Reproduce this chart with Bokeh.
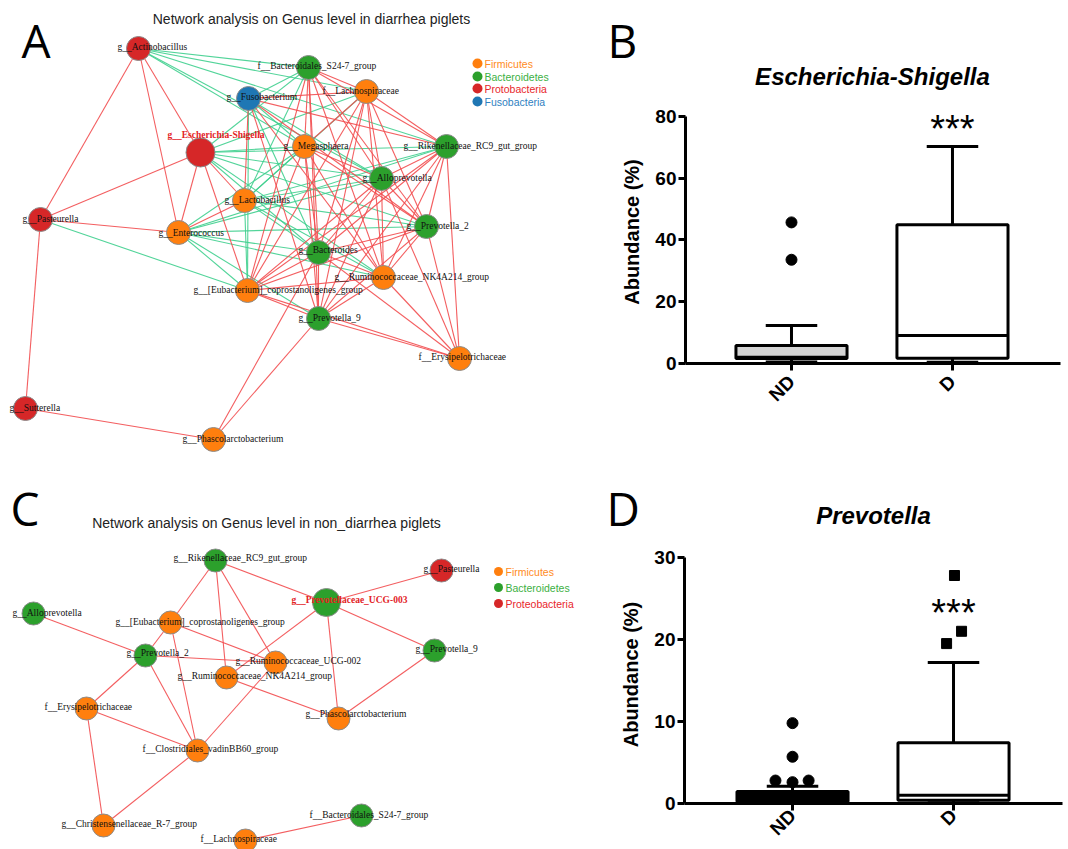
import math
from bokeh.plotting import figure
from bokeh.layouts import column, row
from bokeh.models import Range1d, FixedTicker
from bokeh.core.properties import value
from bokeh.embed import file_html
from bokeh.resources import INLINE

# ===================== DATA =====================
# ---- Panel A: network, diarrhea piglets ----
a_ids = ["AC", "BS", "FU", "LA", "ES", "ME", "RK", "AL", "LB", "PA",
         "EN", "P2", "BA", "RU", "EU", "P9", "ER", "SU", "PH"]
a_names = ["g__Actinobacillus", "f__Bacteroidales_S24-7_group", "g__Fusobacterium",
           "f__Lachnospiraceae", "g__Escherichia-Shigella", "g__Megasphaera",
           "g__Rikenellaceae_RC9_gut_group", "g__Alloprevotella", "g__Lactobacillus",
           "g__Pasteurella", "g__Enterococcus", "g__Prevotella_2", "g__Bacteroides",
           "g__Ruminococcaceae_NK4A214_group", "g__[Eubacterium]_coprostanoligenes_group",
           "g__Prevotella_9", "f__Erysipelotrichaceae", "g__Sutterella",
           "g__Phascolarctobacterium"]
a_phylum = ["Proteobacteria", "Bacteroidetes", "Fusobacteria", "Firmicutes", "Proteobacteria",
            "Firmicutes", "Bacteroidetes", "Bacteroidetes", "Firmicutes", "Proteobacteria",
            "Firmicutes", "Bacteroidetes", "Bacteroidetes", "Firmicutes", "Firmicutes",
            "Bacteroidetes", "Firmicutes", "Proteobacteria", "Firmicutes"]
a_highlight = "ES"
# positive (red) and negative (green) correlations
a_edges_pos = [
    ("AC", "ES"), ("AC", "EN"), ("AC", "PA"), ("ES", "PA"), ("ES", "EN"), ("PA", "EN"),
    ("PA", "SU"), ("SU", "PH"), ("ES", "LB"), ("ES", "EU"), ("LB", "EN"), ("FU", "LB"),
    ("FU", "LA"), ("FU", "RK"), ("FU", "P2"), ("FU", "RU"), ("FU", "P9"),
    ("BS", "ME"), ("BS", "AL"), ("BS", "P2"), ("BS", "BA"), ("BS", "RU"), ("BS", "EU"),
    ("BS", "P9"), ("BS", "RK"), ("BS", "LA"),
    ("LA", "ME"), ("LA", "RK"), ("LA", "AL"), ("LA", "P2"), ("LA", "BA"), ("LA", "RU"),
    ("LA", "EU"), ("LA", "P9"),
    ("ME", "AL"), ("ME", "P2"), ("ME", "BA"), ("ME", "RU"), ("ME", "EU"), ("ME", "P9"),
    ("RK", "AL"), ("RK", "P2"), ("RK", "BA"), ("RK", "RU"), ("RK", "EU"), ("RK", "P9"),
    ("RK", "ER"),
    ("AL", "P2"), ("AL", "BA"), ("AL", "RU"), ("AL", "EU"), ("AL", "P9"), ("AL", "ER"),
    ("P2", "BA"), ("P2", "RU"), ("P2", "EU"), ("P2", "P9"), ("P2", "ER"),
    ("BA", "RU"), ("BA", "EU"), ("BA", "P9"), ("BA", "ER"), ("BA", "PH"),
    ("RU", "EU"), ("RU", "P9"), ("RU", "ER"),
    ("EU", "P9"), ("EU", "ER"), ("P9", "ER"), ("P9", "PH"),
]
a_edges_neg = [
    ("AC", "BS"), ("AC", "LA"), ("AC", "ME"), ("AC", "RK"), ("AC", "AL"),
    ("FU", "BS"), ("FU", "ME"), ("FU", "AL"), ("FU", "BA"), ("FU", "EU"),
    ("ES", "ME"), ("ES", "RK"), ("ES", "AL"), ("ES", "P2"), ("ES", "BA"), ("ES", "RU"),
    ("ES", "LA"), ("ES", "BS"),
    ("LB", "BS"), ("LB", "LA"), ("LB", "ME"), ("LB", "AL"), ("LB", "RK"), ("LB", "P2"),
    ("LB", "BA"), ("LB", "RU"), ("LB", "EU"),
    ("EN", "ME"), ("EN", "AL"), ("EN", "P2"), ("EN", "BA"), ("EN", "RU"), ("EN", "EU"),
    ("EN", "P9"), ("EN", "RK"),
    ("PA", "EU"),
]
a_legend = ["Firmicutes", "Bacteroidetes", "Protobacteria", "Fusobacteria"]
a_legend_phylum = ["Firmicutes", "Bacteroidetes", "Proteobacteria", "Fusobacteria"]

# ---- Panel C: network, non-diarrhea piglets ----
c_ids = ["RK", "AL", "EU", "P2", "RU2", "RN", "ER", "CL", "CH", "LA", "PU", "PS", "P9", "PH", "BS"]
c_names = ["g__Rikenellaceae_RC9_gut_group", "g__Alloprevotella",
           "g__[Eubacterium]_coprostanoligenes_group", "g__Prevotella_2",
           "g__Ruminococcaceae_UCG-002", "g__Ruminococcaceae_NK4A214_group",
           "f__Erysipelotrichaceae", "f__Clostridiales_vadinBB60_group",
           "g__Christensenellaceae_R-7_group", "f__Lachnospiraceae",
           "g__Prevotellaceae_UCG-003", "g__Pasteurella", "g__Prevotella_9",
           "g__Phascolarctobacterium", "f__Bacteroidales_S24-7_group"]
c_phylum = ["Bacteroidetes", "Bacteroidetes", "Firmicutes", "Bacteroidetes", "Firmicutes",
            "Firmicutes", "Firmicutes", "Firmicutes", "Firmicutes", "Firmicutes",
            "Bacteroidetes", "Proteobacteria", "Bacteroidetes", "Firmicutes", "Bacteroidetes"]
c_highlight = "PU"
c_edges_pos = [
    ("RK", "PU"), ("RK", "EU"), ("RK", "RN"), ("RK", "RU2"), ("AL", "P2"), ("EU", "P2"),
    ("EU", "RU2"), ("EU", "CL"), ("P2", "RU2"), ("P2", "ER"), ("P2", "CL"), ("ER", "CL"),
    ("ER", "CH"), ("CL", "CH"), ("CL", "RU2"), ("RN", "PU"), ("RN", "PH"), ("PU", "PS"),
    ("PU", "P9"), ("PU", "PH"), ("P9", "PH"), ("LA", "BS"),
]
c_legend = ["Firmicutes", "Bacteroidetes", "Proteobacteria"]
c_legend_phylum = ["Firmicutes", "Bacteroidetes", "Proteobacteria"]

# ---- Panel B: Escherichia-Shigella abundance (%) ----
groups = ["ND", "D"]
esc_q1 = [1.6, 1.7]
esc_median = [2.0, 9.1]
esc_q3 = [5.8, 44.9]
esc_low = [0.5, 0.4]
esc_high = [12.3, 70.3]
esc_out_nd = [45.7, 33.6]
esc_out_d = []

# ---- Panel D: Prevotella abundance (%) ----
prev_q1 = [0.25, 0.4]
prev_median = [0.7, 1.0]
prev_q3 = [1.45, 7.4]
prev_low = [0.1, 0.1]
prev_high = [2.1, 17.2]
prev_out_nd = [9.8, 5.7, 2.8, 2.6, 2.8]
prev_out_d = [27.8, 21.0, 19.5]

# ===================== LAYOUT / STYLE =====================
# network drawing coordinates (pixel space of each panel)
a_node_x = [138, 308, 248, 366, 200, 304, 446, 381, 244, 40, 178, 426, 318, 383, 247, 318, 459, 25, 213]
a_node_y = [48, 67, 98, 91, 152, 146, 146, 178, 200, 219, 232, 226, 252, 277, 290, 318, 358, 408, 439]
a_label_x = [117, 257, 226, 322, 167, 283, 403, 362, 224, 22, 158, 406, 298, 334, 193, 298, 418, 9, 182]
a_label_y = [46, 65, 96, 90, 134, 145, 145, 177, 199, 218, 232, 225, 249, 276, 289, 317, 356, 407, 438]

c_node_x = [215, 33, 170, 145, 275, 226, 86, 197, 103, 245, 326, 441, 434, 338, 361]
c_node_y = [560, 613, 622, 655, 662, 677, 708, 750, 825, 840, 602, 570, 650, 718, 815]
c_label_x = [173, 12, 115, 126, 235, 177, 44, 142, 61, 200, 291, 423, 415, 305, 309]
c_label_y = [557, 612, 621, 652, 660, 675, 706, 748, 823, 838, 599, 568, 648, 713, 814]

PHYLUM_COLOR = {"Firmicutes": "#ff7f0e", "Bacteroidetes": "#2ca02c",
                "Proteobacteria": "#d62728", "Fusobacteria": "#1f77b4"}
LEGEND_TEXT_COLOR = {"Firmicutes": "#ff8a1c", "Bacteroidetes": "#3cb043",
                     "Proteobacteria": "#e8262b", "Fusobacteria": "#2f7fc1"}
RED_EDGE = "#f24d4f"
GREEN_EDGE = "#3fcf8e"
SERIF = value("Liberation Serif")
SANS = value("Liberation Sans")
LETTER_FONT = value("Open Sans")


def bare_figure(width, height, x0, y0):
    p = figure(width=width, height=height, x_range=Range1d(x0, x0 + width),
               y_range=Range1d(y0 + height, y0), output_backend="svg",
               toolbar_location=None, x_axis_location=None, y_axis_location=None,
               min_border=0)
    p.grid.visible = False
    p.outline_line_color = None
    return p


def network_panel(height, y0, ids, names, phylum, nx, ny, lx, ly, edges_pos, edges_neg,
                  highlight, title, title_xy, letter, letter_xy, legend, legend_phylum,
                  legend_x, legend_y, node_size, legend_size):
    p = bare_figure(580, height, 0, y0)
    pos = {k: (x, y) for k, x, y in zip(ids, nx, ny)}
    for edges, col in ((edges_neg, GREEN_EDGE), (edges_pos, RED_EDGE)):
        if edges:
            p.segment(x0=[pos[a][0] for a, b in edges], y0=[pos[a][1] for a, b in edges],
                      x1=[pos[b][0] for a, b in edges], y1=[pos[b][1] for a, b in edges],
                      line_color=col, line_width=1.1, line_alpha=0.9)
    sizes = [node_size + 5 if k == highlight else node_size for k in ids]
    p.scatter(x=nx, y=ny, size=sizes, marker="circle",
              fill_color=[PHYLUM_COLOR[f] for f in phylum],
              line_color="#8c8c8c", line_width=1)
    norm = [i for i, k in enumerate(ids) if k != highlight]
    hi = [i for i, k in enumerate(ids) if k == highlight]
    p.text(x=[lx[i] for i in norm], y=[ly[i] for i in norm], text=[names[i] for i in norm],
           text_font=SERIF, text_font_size="9.5px", text_baseline="middle",
           text_align="left", text_color="#111111")
    p.text(x=[lx[i] for i in hi], y=[ly[i] for i in hi], text=[names[i] for i in hi],
           text_font=SERIF, text_font_size="9.5px", text_font_style="bold",
           text_baseline="middle", text_align="left", text_color="#e3221f")
    p.text(x=[title_xy[0]], y=[title_xy[1]], text=[title], text_font=SANS,
           text_font_size="14px", text_align="center", text_baseline="middle",
           text_color="#222222")
    p.text(x=[letter_xy[0]], y=[letter_xy[1]], text=[letter], text_font=LETTER_FONT,
           text_font_size="46px", text_align="left", text_baseline="alphabetic",
           text_color="#000000")
    p.scatter(x=[legend_x] * len(legend), y=legend_y, size=legend_size, marker="circle",
              fill_color=[PHYLUM_COLOR[f] for f in legend_phylum], line_color=None)
    p.text(x=[legend_x + 7] * len(legend), y=legend_y, text=legend, text_font=SANS,
           text_font_size="10.5px", text_baseline="middle", text_align="left",
           text_color=[LEGEND_TEXT_COLOR[f] for f in legend_phylum])
    return p


def header_panel(height, y0, title, title_xy, letter, letter_xy):
    p = bare_figure(488, height, 580, y0)
    p.text(x=[title_xy[0]], y=[title_xy[1]], text=[title], text_font=SANS,
           text_font_style="bold italic", text_font_size="24px", text_align="center",
           text_baseline="middle", text_color="black")
    p.text(x=[letter_xy[0]], y=[letter_xy[1]], text=[letter], text_font=LETTER_FONT,
           text_font_size="46px", text_align="left", text_baseline="alphabetic",
           text_color="black")
    return p


def box_panel(height, border, x_range, y_range, ticks, q1, med, q3, low, high,
              out_nd, out_nd_dx, out_d, out_d_dx, out_d_marker, stars_y, fills, xstand):
    p = figure(width=488, height=height, x_range=x_range, y_range=y_range,
               output_backend="svg", toolbar_location=None,
               min_border_left=border[0], min_border_right=border[1],
               min_border_top=border[2], min_border_bottom=border[3])
    p.grid.visible = False
    p.outline_line_color = None
    xs = [1, 2]
    hw, cw = 0.345, 0.16
    # whiskers
    p.segment(x0=xs, x1=xs, y0=q3, y1=high, line_color="black", line_width=3)
    p.segment(x0=xs, x1=xs, y0=q1, y1=low, line_color="black", line_width=3)
    p.segment(x0=[x - cw for x in xs], x1=[x + cw for x in xs], y0=high, y1=high,
              line_color="black", line_width=3)
    p.segment(x0=[x - cw for x in xs], x1=[x + cw for x in xs], y0=low, y1=low,
              line_color="black", line_width=3)
    # boxes
    p.quad(left=[x - hw for x in xs], right=[x + hw for x in xs], bottom=q1, top=q3,
           fill_color=fills, line_color="black", line_width=3)
    p.segment(x0=[x - hw for x in xs], x1=[x + hw for x in xs], y0=med, y1=med,
              line_color="black", line_width=3)
    # outliers
    if out_nd:
        p.scatter(x=[1 + d for d in out_nd_dx], y=out_nd, size=11, marker="circle",
                  fill_color="black", line_color="black")
    if out_d:
        p.scatter(x=[2 + d for d in out_d_dx], y=out_d, size=10, marker=out_d_marker,
                  fill_color="black", line_color="black")
    p.text(x=[2], y=[stars_y], text=["***"], text_font=SANS, text_font_size="38px",
           text_align="center", text_baseline="alphabetic", text_color="black")
    # axes
    for ax in (p.xaxis[0], p.yaxis[0]):
        ax.axis_line_width = 3
        ax.major_tick_line_width = 3
        ax.major_tick_out = 7
        ax.major_tick_in = 0
        ax.minor_tick_line_color = None
        ax.major_label_text_font = "Liberation Sans"
        ax.major_label_text_font_style = "bold"
        ax.major_label_text_font_size = "19px"
        ax.major_label_text_color = "black"
        ax.axis_line_color = "black"
        ax.major_tick_line_color = "black"
    p.yaxis.ticker = FixedTicker(ticks=ticks)
    p.yaxis.bounds = (ticks[0], ticks[-1])
    p.yaxis.major_label_standoff = 2
    p.yaxis.axis_label = "Abundance (%)"
    p.yaxis.axis_label_text_font = "Liberation Sans"
    p.yaxis.axis_label_text_font_style = "bold"
    p.yaxis.axis_label_text_font_size = "20px"
    p.yaxis.axis_label_text_color = "black"
    p.yaxis.axis_label_standoff = 9
    p.xaxis.ticker = FixedTicker(ticks=xs)
    p.xaxis.major_label_overrides = {1: groups[0], 2: groups[1]}
    p.xaxis.major_label_orientation = math.pi / 4
    p.xaxis.major_label_standoff = xstand
    return p


pA = network_panel(465, 0, a_ids, a_names, a_phylum, a_node_x, a_node_y, a_label_x, a_label_y,
                   a_edges_pos, a_edges_neg, a_highlight,
                   "Network analysis on Genus level in diarrhea piglets", (311, 18),
                   "A", (21, 39), a_legend, a_legend_phylum, 477, [63, 76, 88, 101], 24, 10)

pC = network_panel(384, 465, c_ids, c_names, c_phylum, c_node_x, c_node_y, c_label_x, c_label_y,
                   c_edges_pos, [], c_highlight,
                   "Network analysis on Genus level in non_diarrhea piglets", (266, 522),
                   "C", (10, 507), c_legend, c_legend_phylum, 498, [571, 587, 603], 23, 9)

hB = header_panel(100, 0, "Escherichia-Shigella", (872, 76), "B", (607, 39))
pB = box_panel(365, (105, 8, 0, 102), Range1d(0.3416, 2.671), Range1d(0, 85.18),
               [0, 20, 40, 60, 80], esc_q1, esc_median, esc_q3, esc_low, esc_high,
               esc_out_nd, [0, 0], esc_out_d, [], "square", 76.0, ["#d4d4d4", "white"], 8)

hD = header_panel(80, 465, "Prevotella", (873, 515), "D", (606, 507))
pD = box_panel(304, (104, 6, 0, 45), Range1d(0.329, 2.677), Range1d(0, 31.46),
               [0, 10, 20, 30], prev_q1, prev_median, prev_q3, prev_low, prev_high,
               prev_out_nd, [0, 0, -0.106, 0, 0.1], prev_out_d, [0.006, 0.05, -0.043],
               "square", 23.2, ["black", "white"], 2)

layout = column(
    row(column(pA), column(column(hB), column(pB))),
    row(column(pC), column(column(hD), column(pD))),
)
open("out.html", "w").write(file_html(layout, INLINE))
